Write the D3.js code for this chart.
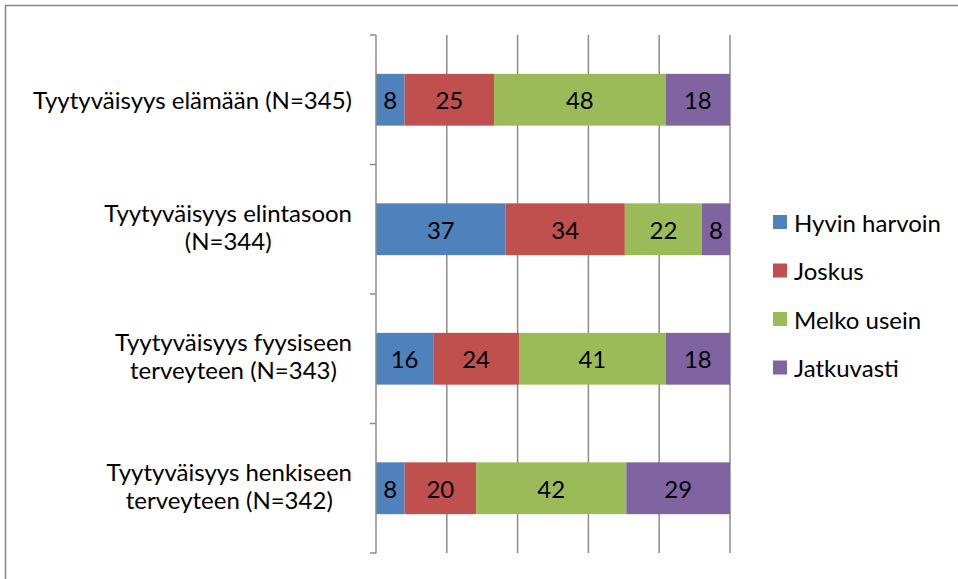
<!DOCTYPE html>
<html>
<head>
<meta charset="utf-8">
<script src="https://cdn.jsdelivr.net/npm/d3@7"></script>
<style>
  body { margin: 0; background: #fff; }
  text { font-family: Lato, "Open Sans", sans-serif; fill: #000; }
</style>
</head>
<body>
<div id="chart"></div>
<script>
// data
let categories = [
    ["Tyytyväisyys elämään (N=345)"],
    ["Tyytyväisyys elintasoon", "(N=344)"],
    ["Tyytyväisyys fyysiseen", "terveyteen (N=343)"],
    ["Tyytyväisyys henkiseen", "terveyteen (N=342)"]
];
let series = ["Hyvin harvoin", "Joskus", "Melko usein", "Jatkuvasti"];
let hyvinHarvoin = [8, 37, 16, 8];
let joskus = [25, 34, 24, 20];
let melkoUsein = [48, 22, 41, 42];
let jatkuvasti = [18, 8, 18, 29];
let xTicks = [0, 20, 40, 60, 80, 100];

let colors = ["#4F81BD", "#C0504D", "#9BBB59", "#8064A2"];
let values = [hyvinHarvoin, joskus, melkoUsein, jatkuvasti];

let width = 958, height = 579;
let fs = 24;
let svg = d3.select("#chart").append("svg")
    .attr("width", width)
    .attr("height", height);

// outer frame (right & bottom edges fall outside the picture)
svg.append("rect")
    .attr("x", 5.5).attr("y", 5.5)
    .attr("width", 960).attr("height", 600)
    .attr("fill", "none")
    .attr("stroke", "#868686")
    .attr("stroke-width", 1.5);

let plot = {left: 376, right: 730, top: 35, bottom: 553};

let xScale = d3.scaleLinear().domain([0, 100]).range([plot.left, plot.right]);
let yScale = d3.scaleBand()
    .domain(d3.range(categories.length))
    .range([plot.top, plot.bottom])
    .paddingInner(0.6)
    .paddingOuter(0.3);

// gridlines
svg.append("g")
    .selectAll("line")
    .data(xTicks.slice(1))
    .join("line")
    .attr("x1", d => xScale(d)).attr("x2", d => xScale(d))
    .attr("y1", plot.top).attr("y2", plot.bottom)
    .attr("stroke", "#8c8c8c")
    .attr("stroke-width", 1.5);

// rows, normalised to 100 %
let rows = categories.map((c, i) => {
    let vals = values.map(s => s[i]);
    let total = d3.sum(vals);
    let acc = 0;
    return vals.map((v, k) => {
        let seg = {row: i, k: k, v: v, x0: acc / total * 100, x1: (acc + v) / total * 100};
        acc += v;
        return seg;
    });
});

let segs = rows.flat();

svg.append("g")
    .selectAll("rect")
    .data(segs)
    .join("rect")
    .attr("x", d => xScale(d.x0))
    .attr("width", d => xScale(d.x1) - xScale(d.x0))
    .attr("y", d => yScale(d.row))
    .attr("height", yScale.bandwidth())
    .attr("fill", d => colors[d.k]);

svg.append("g")
    .selectAll("text")
    .data(segs)
    .join("text")
    .attr("x", d => (xScale(d.x0) + xScale(d.x1)) / 2)
    .attr("y", d => yScale(d.row) + yScale.bandwidth() / 2)
    .attr("text-anchor", "middle")
    .attr("dominant-baseline", "central")
    .attr("font-size", fs)
    .text(d => d.v);

// category axis
let step = (plot.bottom - plot.top) / categories.length;
let axis = svg.append("g");
axis.append("line")
    .attr("x1", plot.left).attr("x2", plot.left)
    .attr("y1", plot.top).attr("y2", plot.bottom)
    .attr("stroke", "#8c8c8c").attr("stroke-width", 1.5);
axis.selectAll(".tick")
    .data(d3.range(categories.length + 1))
    .join("line")
    .attr("x1", plot.left - 6).attr("x2", plot.left)
    .attr("y1", d => plot.top + d * step).attr("y2", d => plot.top + d * step)
    .attr("stroke", "#8c8c8c").attr("stroke-width", 1.5);

// category labels: multi-line, centred block right-aligned at x=352
categories.forEach((lines, i) => {
    let cy = yScale(i) + yScale.bandwidth() / 2;
    let lh = 28;
    // wrapped labels sit a little above the bar centre
    let shift = lines.length > 1 ? -3 : 0;
    let g = svg.append("g");
    let t = g.append("text").attr("font-size", fs).attr("text-anchor", "middle");
    lines.forEach((ln, j) => {
        t.append("tspan")
            .attr("x", 0)
            .attr("y", cy + shift + (j - (lines.length - 1) / 2) * lh)
            .attr("dominant-baseline", "central")
            .text(ln);
    });
    let w = t.node().getBBox().width;
    g.attr("transform", "translate(" + (352 - w / 2) + ",0)");
});

// legend
let legend = svg.append("g");
series.forEach((s, i) => {
    let y = 222 + i * 48.5;
    legend.append("rect")
        .attr("x", 773).attr("y", y - 7)
        .attr("width", 14).attr("height", 14)
        .attr("fill", colors[i]);
    legend.append("text")
        .attr("x", 794).attr("y", y)
        .attr("dominant-baseline", "central")
        .attr("font-size", fs)
        .text(s);
});
</script>
</body>
</html>
